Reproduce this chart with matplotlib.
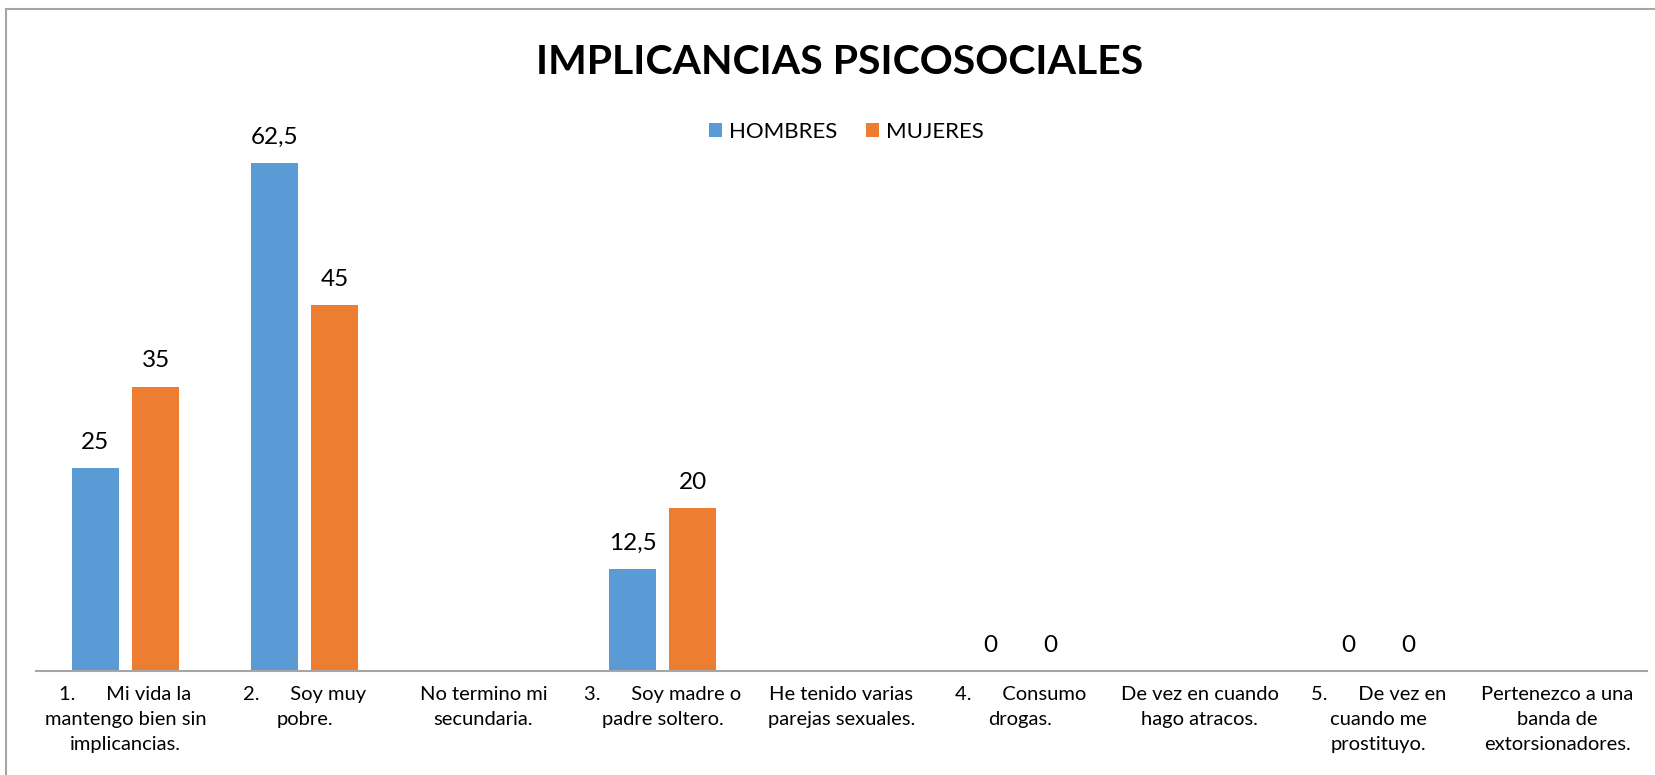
import numpy as np
import matplotlib
matplotlib.use('Agg')
import matplotlib.pyplot as plt
from matplotlib.lines import Line2D

plt.rcParams['font.family'] = ['Lato', 'DejaVu Sans']

categorias = ['1.      Mi vida la\nmantengo bien sin\nimplicancias.',
              '2.      Soy muy\npobre.',
              'No termino mi\nsecundaria.',
              '3.      Soy madre o\npadre soltero.',
              'He tenido varias\nparejas sexuales.',
              '4.      Consumo\ndrogas.',
              'De vez en cuando\nhago atracos.',
              '5.      De vez en\ncuando me\nprostituyo.',
              'Pertenezco a una\nbanda de\nextorsionadores.']
hombres = [25, 62.5, np.nan, 12.5, np.nan, 0, np.nan, 0, np.nan]
mujeres = [35, 45, np.nan, 20, np.nan, 0, np.nan, 0, np.nan]

azul = '#5B9BD5'
naranja = '#ED7D31'

fig = plt.figure(figsize=(16.56, 7.75), dpi=100)
ax = fig.add_axes([36/1656, 1 - 671/775, (1647-36)/1656, (671-102)/775])

x = np.arange(len(categorias))
w = 0.265
off = 0.168
b1 = ax.bar(x - off, hombres, w, color=azul, label='HOMBRES')
b2 = ax.bar(x + off, mujeres, w, color=naranja, label='MUJERES')

def fmt(v):
    s = ('%g' % v).replace('.', ',')
    return s

for serie, xs in ((hombres, x - off), (mujeres, x + off)):
    for xi, v in zip(xs, serie):
        if np.isnan(v):
            continue
        ax.annotate(fmt(v), (xi, v), xytext=(0, 11), textcoords='offset points',
                    ha='center', va='bottom', fontsize=17.5)

ax.set_xlim(-0.5, len(categorias) - 0.5)
ax.set_ylim(0, 70)
ax.set_yticks([])
ax.set_xticks(x)
ax.set_xticklabels(categorias, fontsize=14.5, linespacing=1.55)
ax.tick_params(axis='x', length=0, pad=11)
for s in ('top', 'right', 'left'):
    ax.spines[s].set_visible(False)
ax.spines['bottom'].set_color('#A6A6A6')
ax.spines['bottom'].set_linewidth(1.5)

fig.text(840/1656, 1 - 63/775, 'IMPLICANCIAS PSICOSOCIALES', ha='center', va='center',
         fontsize=29.5, fontweight='bold')
fig.legend(handles=[b1, b2], loc='center', bbox_to_anchor=(846/1656, 1 - 132/775),
           ncol=2, frameon=False, fontsize=16, handlelength=0.6, handleheight=0.6,
           handletextpad=0.3, columnspacing=1.3)

# borde del grafico
fig.add_artist(Line2D([6/1656, 1], [1 - 9/775, 1 - 9/775], color='#A6A6A6', lw=1.5))
fig.add_artist(Line2D([6/1656, 6/1656], [0, 1 - 9/775], color='#A6A6A6', lw=1.5))

fig.savefig('out.png', dpi=100)
